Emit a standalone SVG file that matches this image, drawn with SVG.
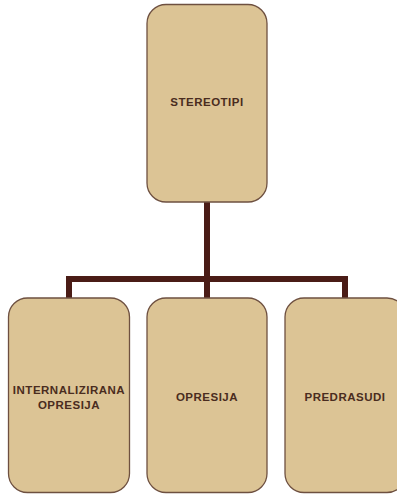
<svg xmlns="http://www.w3.org/2000/svg" width="397" height="494" viewBox="0 0 397 494">
  <style>
    .node { fill: #dcc495; stroke: #6e5040; stroke-width: 1.3; }
    .label { font-family: "Liberation Sans", Arial, sans-serif; font-weight: bold; font-size: 11.5px; letter-spacing: 0.5px; fill: #4a2c20; text-anchor: middle; }
    .conn { fill: none; stroke: #4a1c16; stroke-width: 6; }
  </style>
  <rect width="397" height="494" fill="#ffffff"/>
  <g id="connectors">
    <line class="conn" x1="207" y1="202" x2="207" y2="298"/>
    <polyline class="conn" points="69,298 69,279 345,279 345,298"/>
  </g>
  <g id="stereotipi">
    <rect class="node" x="147" y="4.5" width="120" height="197.5" rx="19" ry="19"/>
    <text class="label" x="207" y="106">STEREOTIPI</text>
  </g>
  <g id="internalizirana">
    <rect class="node" x="8.5" y="298" width="121" height="194.5" rx="19" ry="19"/>
    <text class="label" x="69" y="394">INTERNALIZIRANA</text>
    <text class="label" x="69" y="409">OPRESIJA</text>
  </g>
  <g id="opresija">
    <rect class="node" x="147" y="298" width="120" height="194.5" rx="19" ry="19"/>
    <text class="label" x="207" y="401">OPRESIJA</text>
  </g>
  <g id="predrasudi">
    <rect class="node" x="285" y="298" width="121" height="194.5" rx="19" ry="19"/>
    <text class="label" x="345" y="401">PREDRASUDI</text>
  </g>
</svg>
